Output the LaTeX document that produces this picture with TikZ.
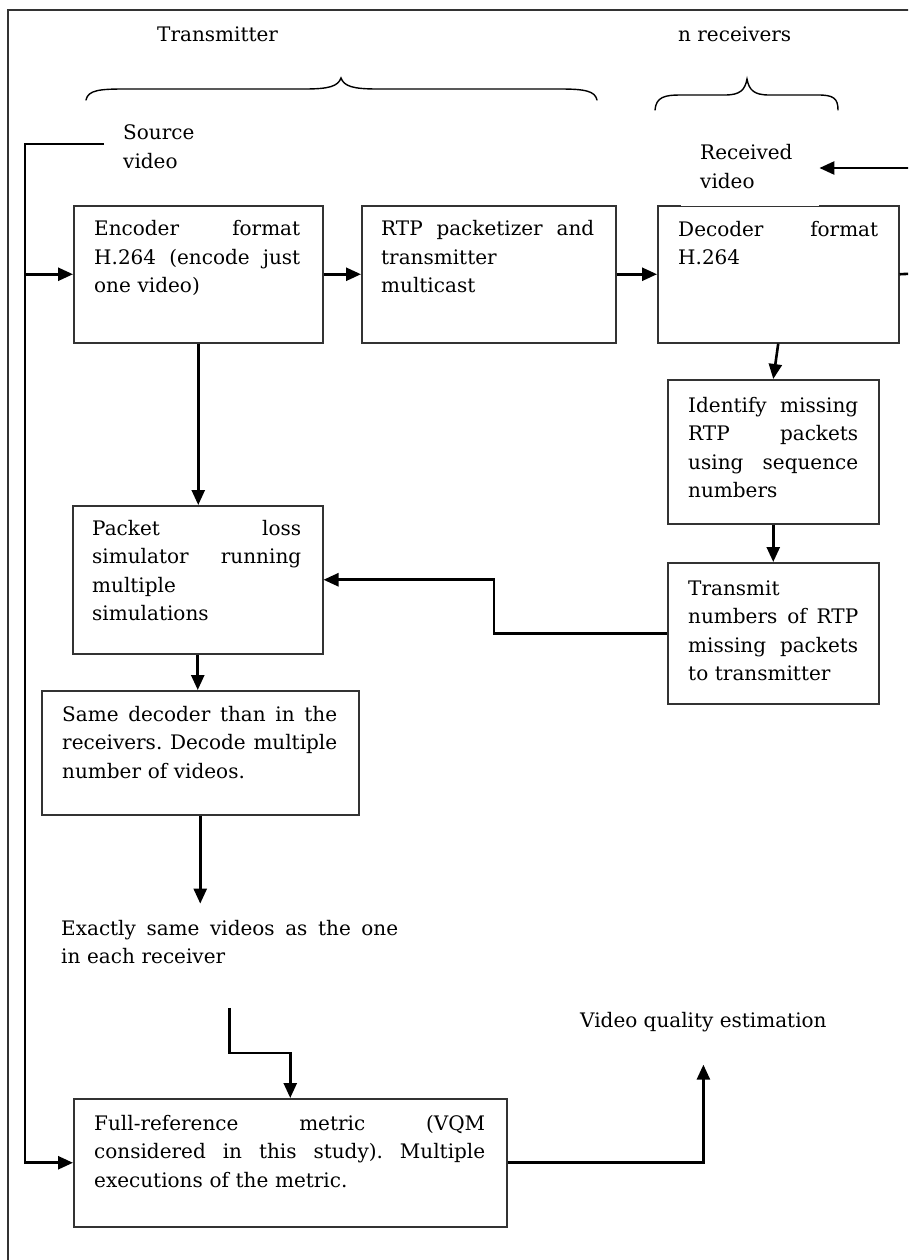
\documentclass[tikz,border=0pt]{standalone}
\usepackage{fontspec}
\setmainfont{DejaVu Serif}
\usetikzlibrary{arrows.meta,calc}
\definecolor{edgegray}{HTML}{333333}
\frenchspacing
% a line of justified text spread over the full text width
\newcommand\jl[1]{{\spaceskip=0pt\xspaceskip=0pt\makebox[\hsize][s]{#1}}}

\begin{document}
\begin{tikzpicture}[x=1pt,y=-1pt,
  every node/.style={font=\fontsize{20pt}{28.5pt}\selectfont, inner sep=0pt},
  panel/.style={draw=edgegray, line width=1.5pt, anchor=north west, inner sep=0pt},
  txt/.style={anchor=base west, align=left},
  conn/.style={line width=2.6pt, black},
  arr/.style={conn, -{Triangle[length=15pt,width=13pt]}},
  bracepath/.style={line width=1.4pt, line cap=round, black},
]
\useasboundingbox (0,0) rectangle (908,1260);
\clip (0,0) rectangle (908,1260);

% outer frame
\draw[line width=1.5pt, edgegray] (8,10) rectangle (960,1300);

% group titles and braces
\node[txt] (ttx) at (157,42) {Transmitter};
\node[txt] (trx) at (678,42) {n receivers};
\draw[bracepath] (86,100) .. controls (88,90) and (100,89) .. (125,89) -- (305,89)
  .. controls (330,89) and (338,86) .. (341,78)
  .. controls (344,86) and (352,89) .. (377,89) -- (560,89)
  .. controls (585,89) and (595,91) .. (597,100);
\draw[bracepath] (655,110) .. controls (656,97) and (665,95) .. (680,95) -- (725,95)
  .. controls (740,95) and (745,90) .. (747,79)
  .. controls (749,90) and (754,95) .. (769,95) -- (818,95)
  .. controls (833,95) and (838,98) .. (838,110);

% process boxes
\node[panel, minimum width=249pt, minimum height=137pt] (enc) at (73,205) {};
\node[panel, minimum width=254pt, minimum height=137pt] (rtp) at (361,205) {};
\node[panel, minimum width=241pt, minimum height=137pt] (dec) at (657,205) {};
\node[panel, minimum width=211pt, minimum height=144pt] (ident) at (667,379) {};
\node[panel, minimum width=211pt, minimum height=141pt] (trans) at (667,562) {};
\node[panel, minimum width=250pt, minimum height=148pt] (pkt) at (72,505) {};
\node[panel, minimum width=317pt, minimum height=124pt] (same) at (41,690) {};
\node[panel, minimum width=433pt, minimum height=128pt] (full) at (73,1098) {};

% box texts
\node[txt, text width=206pt] (enc-t) at (94,235.5)
  {\jl{Encoder format}\\\jl{H.264 (encode just}\\one video)};
\node[txt, text width=213pt] (rtp-t) at (381,235.5)
  {\jl{RTP packetizer and}\\transmitter\\multicast};
\node[txt, text width=200pt] (dec-t) at (678,236)
  {\jl{Decoder format}\\H.264};
\node[txt, text width=170pt] (ident-t) at (688,412)
  {\jl{Identify missing}\\\jl{RTP packets}\\\jl{using sequence}\\numbers};
\node[txt, text width=170pt] (trans-t) at (688,595)
  {Transmit\\\jl{numbers of RTP}\\\jl{missing packets}\\to transmitter};
\node[txt, text width=209pt] (pkt-t) at (92,535)
  {\jl{Packet loss}\\\jl{simulator running}\\multiple\\simulations};
\node[txt, text width=275pt] (same-t) at (62,721)
  {\jl{Same decoder than in the}\\\jl{receivers. Decode multiple}\\number of videos.};
\node[txt, text width=391pt] (full-t) at (94,1130)
  {\jl{Full-reference metric (VQM}\\\jl{considered in this study). Multiple}\\executions of the metric.};

% free-standing labels
\node[txt, text width=100pt] (src) at (123,140) {Source\\video};
\node[fill=white, minimum width=138pt, minimum height=80pt, text width=100pt,
      inner xsep=19pt, inner ysep=0pt, align=left, anchor=south west]
      (recv) at (681,206.5) {Received\\video};
\node[txt, text width=337pt] (exact) at (61,935)
  {\jl{Exactly same videos as the one}\\in each receiver};
\node[txt] (vqe) at (580,1027) {Video quality estimation};

% connectors
\coordinate (srcin) at (104,144);
\coordinate (bus) at (25,144);
\draw[arr] (srcin) -- (bus) |- (full.west);
\draw[arr] (bus |- enc.west) -- (enc.west);
\draw[arr] (enc.east) -- (rtp.west);
\draw[arr] (rtp.east) -- (dec.west);
\coordinate (decout) at (915,273.5);
\draw[conn] (dec.east) -- (decout);
\coordinate (recin) at (915,168);
\draw[arr] (recin) -- (recin -| recv.east);
\draw[arr] (dec.south) -- (ident.north);
\draw[arr] (ident.south) -- (trans.north);
\coordinate (jog) at (494,600);
\draw[arr] (trans.west) -| (jog) |- (pkt.east);
\draw[arr] (enc.south) -- (enc.south |- pkt.north);
\draw[arr] (pkt.south) -- (pkt.south |- same.north);
\coordinate (exin) at ([yshift=16pt]exact.north);
\coordinate (exout) at ([yshift=-44pt]exact.south);
\draw[arr] (same.south) -- (same.south |- exin);
\draw[arr] (exout) -- ++(0,45) -| (full.north);
\draw[arr] (full.east) -| ([yshift=-33pt]vqe.south);
\end{tikzpicture}
\end{document}
